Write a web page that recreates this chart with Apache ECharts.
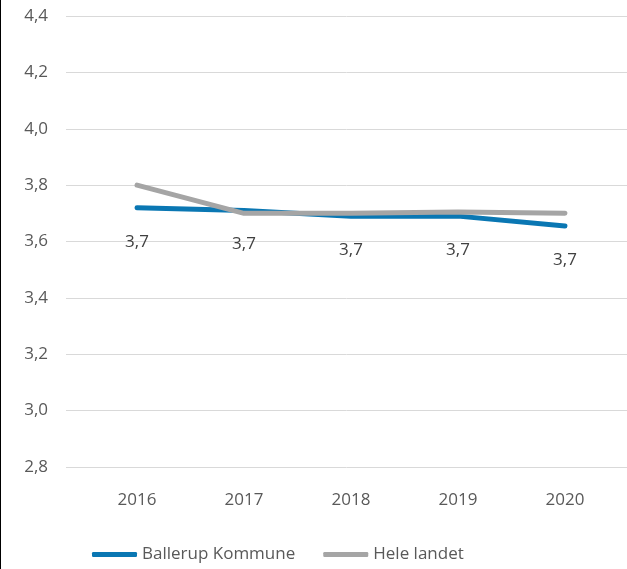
<!DOCTYPE html>
<html>
<head>
<meta charset="utf-8">
<script src="https://cdn.jsdelivr.net/npm/echarts@6/dist/echarts.min.js"></script>
<style>
html,body{margin:0;padding:0;background:#fff;}
#c{width:627px;height:569px;}
</style>
</head>
<body>
<div id="c"></div>
<script>
var categories = ['2016', '2017', '2018', '2019', '2020'];
var ballerup = [3.72, 3.71, 3.69, 3.69, 3.655];
var heleLandet = [3.80, 3.70, 3.70, 3.705, 3.70];
var yTicks = [2.8, 3.0, 3.2, 3.4, 3.6, 3.8, 4.0, 4.2, 4.4];

function fmt(v){ return (Math.round(Number(v) * 10) / 10).toFixed(1).replace('.', ','); }
function pairs(vals){ return categories.map(function(c,i){ return [Number(c), vals[i]]; }); }

var FONT = 'Open Sans';
var TXT = '#595959';
var chart = echarts.init(document.getElementById('c'));
chart.setOption({
  animation: false,
  grid: {left: 66, right: 0, top: 16, bottom: 102},
  graphic: [{type: 'rect', left: 0, top: 0, shape: {width: 1, height: 569}, style: {fill: '#000'}}],
  xAxis: {
    type: 'value',
    min: 2015.336, max: 2020.58,
    axisLine: {show: false},
    axisTick: {show: false},
    splitLine: {show: false},
    axisLabel: {
      customValues: categories.map(Number),
      formatter: function(v){ return String(Math.round(v)); },
      color: TXT, fontFamily: FONT, fontSize: 17, margin: 25
    }
  },
  yAxis: {
    type: 'value',
    min: yTicks[0], max: yTicks[yTicks.length-1], interval: 0.2,
    axisLine: {show: false},
    axisTick: {show: false},
    splitLine: {lineStyle: {color: '#D9D9D9', width: 1}},
    axisLabel: {formatter: fmt, color: TXT, fontFamily: FONT, fontSize: 17, margin: 18}
  },
  legend: {
    left: 87, top: 541,
    itemWidth: 45, itemHeight: 5, itemGap: 28,
    icon: 'roundRect',
    textStyle: {color: TXT, fontFamily: FONT, fontSize: 17},
    data: ['Ballerup Kommune', 'Hele landet']
  },
  series: [
    {
      name: 'Ballerup Kommune', type: 'line', data: pairs(ballerup),
      symbol: 'circle', symbolSize: 1, showSymbol: true,
      itemStyle: {color: '#0A77B3'},
      lineStyle: {color: '#0A77B3', width: 5, cap: 'round', join: 'round'},
      label: {show: true, position: 'bottom', distance: 25,
        formatter: function(p){ return fmt(p.value[1]); },
        color: '#404040', fontFamily: FONT, fontSize: 17},
      z: 2
    },
    {
      name: 'Hele landet', type: 'line', data: pairs(heleLandet),
      symbol: 'circle', symbolSize: 1, showSymbol: true,
      itemStyle: {color: '#A5A5A5'},
      lineStyle: {color: '#A5A5A5', width: 5, cap: 'round', join: 'round'},
      z: 3
    }
  ]
});
</script>
</body>
</html>
